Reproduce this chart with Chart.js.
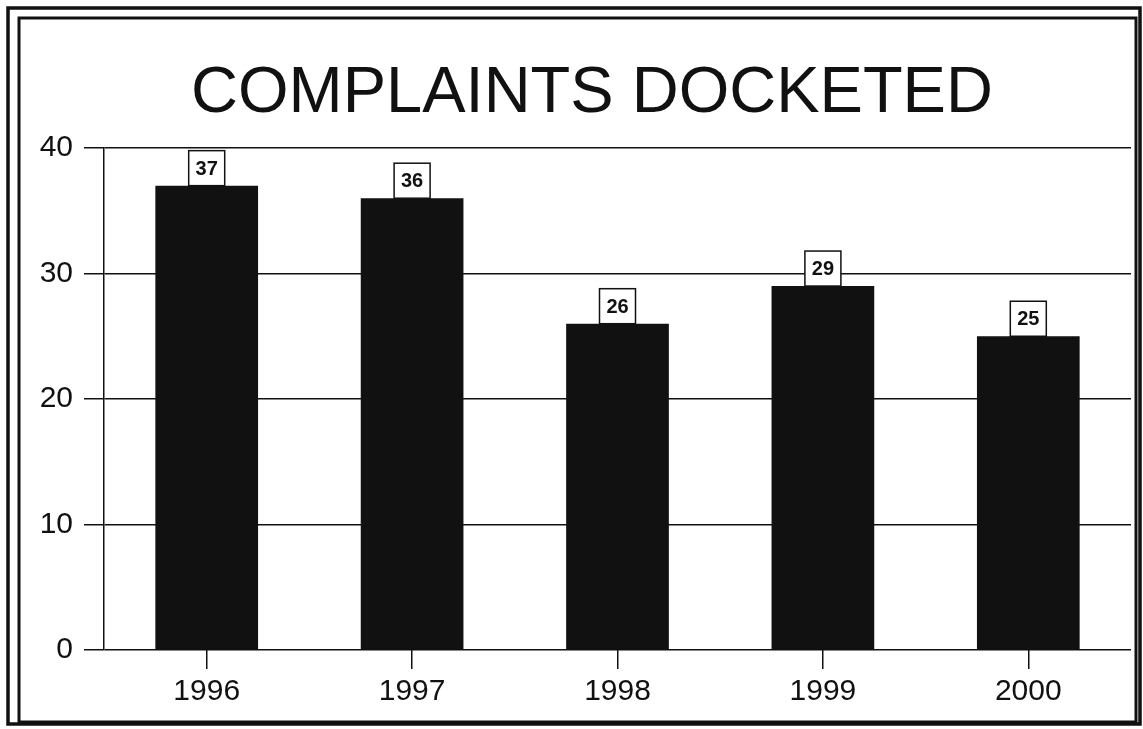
<!DOCTYPE html>
<html>
<head>
<meta charset="utf-8">
<script src="https://cdn.jsdelivr.net/npm/chart.js@4.4.0/dist/chart.umd.min.js"></script>
<style>
    html, body { margin: 0; padding: 0; background: #fff; }
    #caixa { width: 1143px; height: 729px; }
</style>
</head>
<body>
<div id="caixa"><canvas id="queixasChart"></canvas></div>
<script>
const titulo = 'COMPLAINTS DOCKETED'
const anos = ['1996', '1997', '1998', '1999', '2000']
const queixas = [37, 36, 26, 29, 25]
const ticksY = [0, 10, 20, 30, 40]

const fonte = "'Liberation Sans', Arial, sans-serif"

// moldura dupla do papel escaneado + titulo (fica um pouco a direita do centro)
const moldura = {
    id: 'moldura',
    beforeDraw(chart) {
        const ctx = chart.ctx
        ctx.save()
        ctx.fillStyle = '#fff'
        ctx.fillRect(0, 0, chart.width, chart.height)
        ctx.strokeStyle = '#111'
        ctx.lineWidth = 3.5
        ctx.strokeRect(8, 8, 1132, 716)
        ctx.lineWidth = 3
        ctx.strokeRect(19, 18, 1117, 704)

        ctx.fillStyle = '#111'
        ctx.font = '65px ' + fonte
        ctx.textAlign = 'center'
        ctx.textBaseline = 'alphabetic'
        ctx.fillText(titulo, 592, 112)
        ctx.restore()
    }
}

// caixinhas com o valor em cima de cada barra
const rotulos = {
    id: 'rotulos',
    afterDatasetsDraw(chart) {
        const ctx = chart.ctx
        const meta = chart.getDatasetMeta(0)
        ctx.save()
        ctx.font = 'bold 20px ' + fonte
        ctx.textAlign = 'center'
        ctx.textBaseline = 'middle'
        meta.data.forEach((barra, i) => {
            const w = 36
            const h = 35
            const x = barra.x - w / 2
            const y = barra.y - h
            ctx.fillStyle = '#fff'
            ctx.fillRect(x, y, w, h)
            ctx.strokeStyle = '#111'
            ctx.lineWidth = 1.5
            ctx.strokeRect(x, y, w, h)
            ctx.fillStyle = '#111'
            ctx.fillText(String(queixas[i]), barra.x, y + h / 2 + 1)
        })
        ctx.restore()
    }
}

const ctx = document.getElementById('queixasChart').getContext('2d')
new Chart(ctx, {
    type: 'bar',
    data: {
        labels: anos,
        datasets: [{
            label: titulo,
            data: queixas,
            backgroundColor: '#111',
            borderWidth: 0,
            categoryPercentage: 1,
            barPercentage: 0.5
        }]
    },
    options: {
        responsive: true,
        maintainAspectRatio: false,
        animation: false,
        layout: {
            padding: { left: 20, right: 12, top: 148, bottom: 14 }
        },
        scales: {
            x: {
                grid: {
                    offset: false,
                    drawOnChartArea: false,
                    drawTicks: true,
                    tickLength: 19,
                    color: '#111',
                    lineWidth: 1.5
                },
                border: { display: false },
                ticks: {
                    color: '#111',
                    padding: 5,
                    font: { family: fonte, size: 30 }
                }
            },
            y: {
                min: 0,
                max: 40,
                afterFit(scale) {
                    scale.width = 84
                },
                afterBuildTicks(scale) {
                    scale.ticks = ticksY.map(v => ({ value: v }))
                },
                grid: {
                    color: '#111',
                    lineWidth: 1.5,
                    tickLength: 20
                },
                border: { display: true, color: '#111', width: 1.5 },
                ticks: {
                    color: '#111',
                    padding: 11,
                    font: { family: fonte, size: 30 }
                }
            }
        },
        plugins: {
            legend: { display: false },
            tooltip: { enabled: false },
            title: { display: false }
        }
    },
    plugins: [moldura, rotulos]
})
</script>
</body>
</html>
